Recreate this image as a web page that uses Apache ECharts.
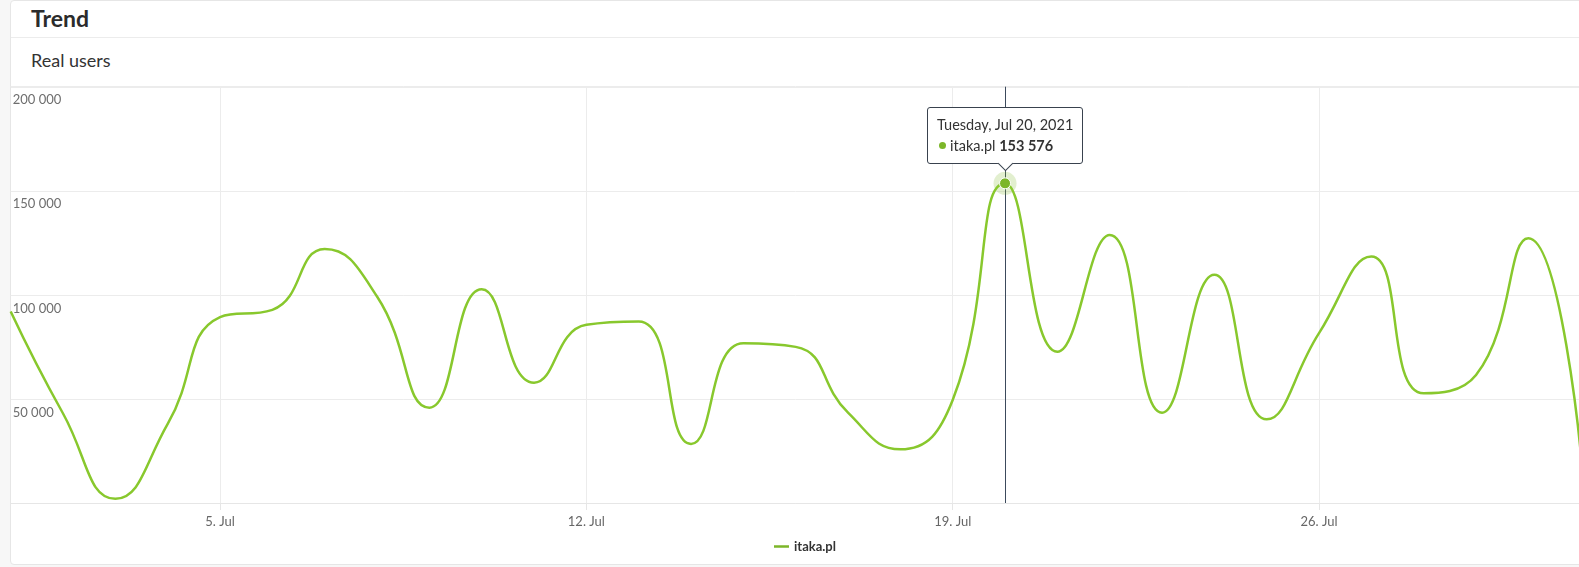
<!DOCTYPE html>
<html>
<head>
<meta charset="utf-8">
<script src="https://cdn.jsdelivr.net/npm/echarts@6/dist/echarts.min.js"></script>
<style>
  body { margin: 0; background: #f7f7f7; overflow: hidden; font-family: Lato, sans-serif; }
  .card { position: absolute; left: 10px; top: 0; width: 1600px; height: 563px; background: #fff;
          border: 1px solid #e6e6e6; border-radius: 4px; }
  .card .head { position: absolute; left: 0; right: 0; top: 0; height: 36px; border-bottom: 1px solid #ececec; }
  .card .sub { position: absolute; left: 0; right: 0; top: 37px; height: 49px; border-bottom: 1px solid #ececec; }
  .card h1 { position: absolute; left: 20px; top: 3px; margin: 0; font-size: 23px; line-height: 28px; font-weight: 700; color: #2b2b2b; }
  .card h2 { position: absolute; left: 20px; top: 11px; margin: 0; font-size: 18px; line-height: 22px; font-weight: 400; color: #333; }
  #main { position: absolute; left: 0; top: 0; width: 1600px; height: 567px; }
</style>
</head>
<body>
<div class="card">
  <div class="head"><h1>Trend</h1></div>
  <div class="sub"><h2>Real users</h2></div>
</div>
<div id="main"></div>
<script>
  var seriesName = 'itaka.pl';
  var days = ['2021-07-01', '2021-07-02', '2021-07-03', '2021-07-04', '2021-07-05', '2021-07-06', '2021-07-07',
              '2021-07-08', '2021-07-09', '2021-07-10', '2021-07-11', '2021-07-12', '2021-07-13', '2021-07-14',
              '2021-07-15', '2021-07-16', '2021-07-17', '2021-07-18', '2021-07-19', '2021-07-20', '2021-07-21',
              '2021-07-22', '2021-07-23', '2021-07-24', '2021-07-25', '2021-07-26', '2021-07-27', '2021-07-28',
              '2021-07-29', '2021-07-30', '2021-07-31'];
  var users = [92000, 43000, 2000, 38000, 89300, 92800, 122000, 99200, 45800, 102700, 57800, 85600, 87200, 28400,
               76800, 75000, 43400, 25800, 49500, 153576, 72700, 128800, 43400, 109600, 40200, 81600, 118400, 52700,
               61500, 127200, 24500];
  var yTicks = [0, 50000, 100000, 150000, 200000];
  var tipIndex = 19;

  var green = '#7cb629';
  var months = ['Jan', 'Feb', 'Mar', 'Apr', 'May', 'Jun', 'Jul', 'Aug', 'Sep', 'Oct', 'Nov', 'Dec'];
  var weekdays = ['Sunday', 'Monday', 'Tuesday', 'Wednesday', 'Thursday', 'Friday', 'Saturday'];

  function fmt(v) {
    return String(v).replace(/\B(?=(\d{3})+(?!\d))/g, ' ');
  }
  function shortDate(s) {
    var d = new Date(s);
    return d.getUTCDate() + '. ' + months[d.getUTCMonth()];
  }
  function longDate(s) {
    var d = new Date(s);
    return weekdays[d.getUTCDay()] + ', ' + months[d.getUTCMonth()] + ' ' + d.getUTCDate() + ', ' + d.getUTCFullYear();
  }
  // weekly ticks on Mondays
  function weekly(i) {
    return new Date(days[i]).getUTCDay() === 1;
  }

  var myChart = echarts.init(document.getElementById('main'));
  myChart.setOption({
    animation: false,
    textStyle: { fontFamily: 'Lato, sans-serif' },
    grid: { left: 10.7, top: 86.7, width: 1570, height: 416.3 },
    legend: {
      left: 769, top: 535,
      icon: 'rect', itemWidth: 15, itemHeight: 2.5, itemGap: 6,
      textStyle: { fontSize: 13, fontWeight: 'bold', color: '#333' },
      data: [seriesName]
    },
    tooltip: {
      trigger: 'axis',
      alwaysShowContent: true,
      transitionDuration: 0,
      backgroundColor: '#fff',
      borderColor: '#39424e',
      borderWidth: 1,
      padding: [6, 9, 7, 9],
      extraCssText: 'box-shadow:none;border-radius:3px;',
      axisPointer: { type: 'line', animation: false, z: 1, lineStyle: { color: '#3c4a5c', width: 1, type: 'solid' } },
      position: function (point, params, dom, rect, size) {
        var p = myChart.convertToPixel({ seriesIndex: 0 }, [tipIndex, users[tipIndex]]);
        return [p[0] - size.contentSize[0] / 2, p[1] - size.contentSize[1] - 19];
      },
      formatter: function (params) {
        var p = params[0];
        return '<div style="font-size:14.5px;line-height:21px;color:#333;font-family:Lato,sans-serif;">' +
          longDate(p.name) + '<br>' +
          '<span style="display:inline-block;width:7px;height:7px;border-radius:50%;background:' + green +
          ';margin:0 4px 2px 2px;"></span>' + p.seriesName + ' <b>' + fmt(p.value) + '</b></div>' +
          '<div style="position:absolute;left:50%;bottom:-6px;width:10px;height:10px;margin-left:-5px;background:#fff;' +
          'border-right:1px solid #39424e;border-bottom:1px solid #39424e;transform:rotate(45deg);"></div>';
      }
    },
    xAxis: {
      type: 'category',
      data: days,
      boundaryGap: false,
      axisLine: { lineStyle: { color: '#e6e6e6' } },
      axisTick: { show: true, length: 7, interval: weekly, lineStyle: { color: '#e6e6e6' } },
      splitLine: { show: true, interval: weekly, lineStyle: { color: '#ececec' } },
      axisLabel: { interval: weekly, margin: 12, fontSize: 13, color: '#666', formatter: shortDate }
    },
    yAxis: {
      type: 'value',
      min: yTicks[0], max: yTicks[yTicks.length - 1], interval: yTicks[1] - yTicks[0],
      axisLine: { show: false },
      axisTick: { show: false },
      splitLine: { lineStyle: { color: '#ececec' } },
      axisLabel: {
        inside: true, margin: 2, verticalAlign: 'top', padding: [7, 0, 0, 0],
        fontSize: 13, color: '#6e6e6e',
        formatter: function (v) { return v === 0 ? '' : fmt(v); }
      }
    },
    series: [{
      name: seriesName,
      type: 'line',
      data: users,
      smooth: 0.5,
      showSymbol: false,
      symbol: 'circle',
      symbolSize: 11,
      z: 4,
      lineStyle: { color: green, width: 2.5 },
      itemStyle: { color: green },
      emphasis: {
        scale: false,
        lineStyle: { width: 2.5 },
        itemStyle: { color: green, borderColor: '#fff', borderWidth: 1 }
      }
    }, {
      // halo behind the hovered point
      name: 'halo',
      type: 'scatter',
      data: [[tipIndex, users[tipIndex]]],
      symbolSize: 23,
      silent: true,
      z: 3,
      tooltip: { show: false },
      itemStyle: { color: 'rgba(124,182,41,0.28)' }
    }]
  });
  myChart.dispatchAction({ type: 'showTip', seriesIndex: 0, dataIndex: tipIndex });
</script>
</body>
</html>
